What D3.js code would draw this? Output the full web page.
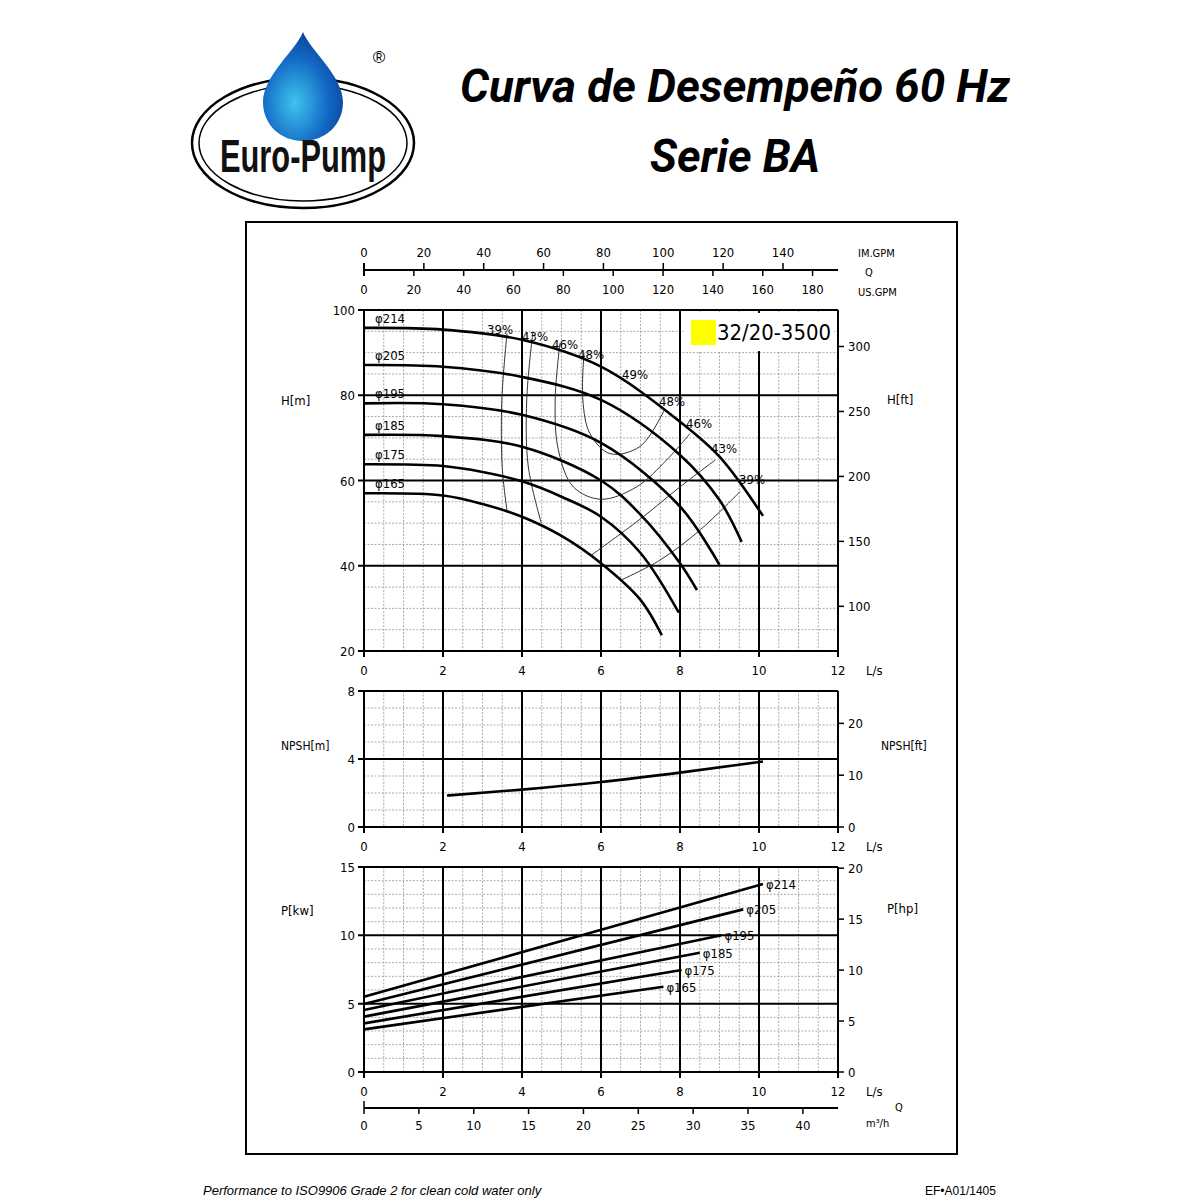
<!DOCTYPE html>
<html><head><meta charset="utf-8">
<script src="https://cdn.jsdelivr.net/npm/d3@7"></script>
<style>body{margin:0;background:#fff}svg{display:block}</style>
</head><body>
<svg id="c" width="1200" height="1200"></svg>
<script>
// ---------- DATA ----------
const diameters = ["φ214","φ205","φ195","φ185","φ175","φ165"];
const headCurves = [
  [[0,95.8],[2,95.4],[4,93],[6,86.7],[8,73.8],[9,65.6],[10.1,51.7]],
  [[0,87.1],[2,86.7],[4,84.3],[6,78.9],[8,66],[9,55.4],[9.56,45.6]],
  [[0,78.1],[2,77.9],[4,75.4],[6,68.8],[8,53.9],[9,40.2]],
  [[0,70.7],[2,70.4],[4,67.9],[6,60],[7,52],[8,40.6],[8.43,34.3]],
  [[0,63.8],[2,63.4],[3,62],[4,59.8],[5,56.2],[6,51.5],[7,43],[7.97,29]],
  [[0,57],[2,56.5],[3,54.5],[4,51.5],[5,47],[6,40.6],[7,32],[7.54,23.7]]
];
const effCurves = [
  {label:"39%", pts:[[3.62,94.5],[3.49,79],[3.5,63],[3.62,53]]},
  {label:"43%", pts:[[4.27,94.5],[4.12,78.9],[4.16,63.2],[4.49,50]]},
  {label:"46%", pts:[[4.96,92.2],[4.84,78.9],[4.92,67.2],[5.3,58.5],[6,55.6],[6.9,58.5],[7.66,64.8],[8.25,71]]},
  {label:"48%", pts:[[5.57,89.9],[5.54,78.9],[5.72,71],[6.23,66.3],[6.99,68],[7.6,76.5]]},
  {label:"43%", pts:[[8.89,64.8],[8,58.5],[7.07,51.5],[5.76,42.5]]},
  {label:"39%", pts:[[9.52,57.4],[8.51,48.4],[7.49,41.3],[6.52,36.7]]}
];
const effLabels = [["39%",500,334],["43%",535,341],["46%",565,349],["48%",591,359],["49%",635,379],["48%",672,406],["46%",699,428],["43%",724,453],["39%",752,484]];
const npsh = [[2.1,1.85],[4,2.2],[6,2.65],[8,3.2],[10.1,3.85]];
const power = [
  [[0,5.5],[10.1,13.75]],
  [[0,4.97],[9.6,11.9]],
  [[0,4.54],[9.05,10.0]],
  [[0,4.05],[8.5,8.73]],
  [[0,3.56],[8.04,7.46]],
  [[0,3.12],[7.58,6.24]]
];
const flowTicks = [0,2,4,6,8,10,12];
const headTicks = [20,40,60,80,100];
const headFtTicks = [100,150,200,250,300];
const npshTicks = [0,4,8];
const npshFtTicks = [0,10,20];
const powerTicks = [0,5,10,15];
const hpTicks = [0,5,10,15,20];
const usGpmTicks = [0,20,40,60,80,100,120,140,160,180];
const imGpmTicks = [0,20,40,60,80,100,120,140];
const m3hTicks = [0,5,10,15,20,25,30,35,40];

// ---------- DRAW ----------
const svg = d3.select("#c");
const F = "'Liberation Sans Narrow','DejaVu Sans Condensed','Liberation Sans',sans-serif";
const x = d3.scaleLinear().domain([0,12]).range([364,838]);
const yH = d3.scaleLinear().domain([20,100]).range([651,310]);
const yN = d3.scaleLinear().domain([0,8]).range([827,691]);
const yP = d3.scaleLinear().domain([0,15]).range([1072,867]);

// logo
const defs = svg.append("defs");
const g1 = defs.append("radialGradient").attr("id","drop").attr("cx","0.4").attr("cy","0.65").attr("r","0.7");
g1.append("stop").attr("offset","0").attr("stop-color","#3fc3ee");
g1.append("stop").attr("offset","0.6").attr("stop-color","#1268c4");
g1.append("stop").attr("offset","1").attr("stop-color","#0a3d96");
svg.append("ellipse").attr("cx",303).attr("cy",143).attr("rx",111).attr("ry",65).attr("fill","none").attr("stroke","#000").attr("stroke-width",2.5);
svg.append("ellipse").attr("cx",303).attr("cy",143).attr("rx",104).attr("ry",58).attr("fill","#fff").attr("stroke","#000").attr("stroke-width",1.5);
svg.append("path").attr("d","M303,32 C296,50 263,76 263,102 C263,125 281,141 303,141 C325,141 343,125 343,102 C343,76 310,50 303,32 Z").attr("fill","url(#drop)");
svg.append("text").attr("x",303).attr("y",172).attr("text-anchor","middle").attr("font-family","'Liberation Sans Narrow',sans-serif").attr("font-weight","bold").attr("font-size",46).attr("textLength",166).attr("lengthAdjust","spacingAndGlyphs").attr("fill","#111").text("Euro-Pump");
svg.append("text").attr("x",379).attr("y",63).attr("text-anchor","middle").attr("font-family","sans-serif").attr("font-size",17).text("®");

// title
svg.append("text").attr("x",735).attr("y",102).attr("text-anchor","middle").attr("font-family","Roboto,sans-serif").attr("font-style","italic").attr("font-weight","bold").attr("font-size",46).attr("textLength",550).attr("lengthAdjust","spacingAndGlyphs").text("Curva de Desempeño 60 Hz");
svg.append("text").attr("x",735).attr("y",172).attr("text-anchor","middle").attr("font-family","Roboto,sans-serif").attr("font-style","italic").attr("font-weight","bold").attr("font-size",46).attr("textLength",170).attr("lengthAdjust","spacingAndGlyphs").text("Serie BA");

// frame
svg.append("rect").attr("x",246).attr("y",222).attr("width",711).attr("height",932).attr("fill","none").attr("stroke","#000").attr("stroke-width",2);

function txt(t,px,py,anchor,size){
  return svg.append("text").attr("x",px).attr("y",py).attr("text-anchor",anchor||"start").attr("font-family",F).attr("font-size",size||13).attr("fill","#000").text(t);
}

function panel(y, yMin, yMax, minorStep, majorStep, leftTicks){
  const g = svg.append("g");
  const [y0,y1]=y.range();
  for(let q=0.5;q<12;q+=0.5){ if(q%2!==0) g.append("line").attr("x1",x(q)).attr("x2",x(q)).attr("y1",y1).attr("y2",y0).attr("stroke","#888").attr("stroke-width",0.7).attr("stroke-dasharray","2,1.5"); }
  for(let v=yMin+minorStep;v<yMax;v+=minorStep){ if(Math.abs(v%majorStep)>1e-6) g.append("line").attr("x1",x(0)).attr("x2",x(12)).attr("y1",y(v)).attr("y2",y(v)).attr("stroke","#888").attr("stroke-width",0.7).attr("stroke-dasharray","2,1.5"); }
  flowTicks.forEach(q=>g.append("line").attr("x1",x(q)).attr("x2",x(q)).attr("y1",y1).attr("y2",y0+6).attr("stroke","#000").attr("stroke-width",2));
  leftTicks.forEach(v=>g.append("line").attr("x1",x(0)-6).attr("x2",x(12)).attr("y1",y(v)).attr("y2",y(v)).attr("stroke","#000").attr("stroke-width",2));
  leftTicks.forEach(v=>txt(v,x(0)-9,y(v)+5,"end",13));
  flowTicks.forEach(q=>txt(q,x(q),y0+24,"middle",13));
  txt("L/s",866,y0+24,"start",13);
  return g;
}

// HEAD panel
panel(yH,20,100,5,20,headTicks);
headFtTicks.forEach(f=>{const m=f*0.3048;svg.append("line").attr("x1",x(12)).attr("x2",x(12)+6).attr("y1",yH(m)).attr("y2",yH(m)).attr("stroke","#000").attr("stroke-width",1.5);txt(f,x(12)+10,yH(m)+5,"start",13);});
txt("H[m]",281,405,"start",13); txt("H[ft]",887,404,"start",13);
const lineC = d3.line().x(d=>x(d[0])).y(d=>yH(d[1])).curve(d3.curveCatmullRom.alpha(0.5));
const lineE = d3.line().x(d=>x(d[0])).y(d=>yH(d[1])).curve(d3.curveCatmullRom);
effCurves.forEach(c=>svg.append("path").attr("d",lineE(c.pts)).attr("fill","none").attr("stroke","#333").attr("stroke-width",1));
headCurves.forEach((c,i)=>{
  svg.append("path").attr("d",lineC(c)).attr("fill","none").attr("stroke","#000").attr("stroke-width",2.6);
  txt(diameters[i],375,yH(c[0][1])-5,"start",13);
});
effLabels.forEach(l=>txt(l[0],l[1],l[2],"middle",13));
// model label
svg.append("rect").attr("x",684).attr("y",313).attr("width",150).attr("height",38).attr("fill","#fff");
svg.append("rect").attr("x",691).attr("y",320).attr("width",25).attr("height",25).attr("fill","#ffff00");
svg.append("text").attr("x",717).attr("y",340).attr("font-family","'DejaVu Sans',sans-serif").attr("font-size",21).attr("textLength",114).attr("lengthAdjust","spacingAndGlyphs").text("32/20-3500");

// top GPM axis
svg.append("line").attr("x1",x(0)).attr("x2",x(12)).attr("y1",270).attr("y2",270).attr("stroke","#000").attr("stroke-width",2);
usGpmTicks.forEach(g=>{const q=g*0.0630902;svg.append("line").attr("x1",x(q)).attr("x2",x(q)).attr("y1",g===0?263:270).attr("y2",276).attr("stroke","#000").attr("stroke-width",g===0?2:1.5);txt(g,x(q),294,"middle",13);});
imGpmTicks.forEach(g=>{const q=g*0.0757682;svg.append("line").attr("x1",x(q)).attr("x2",x(q)).attr("y1",263).attr("y2",270).attr("stroke","#000").attr("stroke-width",1.5);txt(g,x(q),257,"middle",13);});
txt("IM.GPM",858,257,"start",11); txt("Q",865,276,"start",11); txt("US.GPM",858,296,"start",11);

// NPSH panel
panel(yN,0,8,1,4,npshTicks);
npshFtTicks.forEach(f=>{const m=f*0.3048;svg.append("line").attr("x1",x(12)).attr("x2",x(12)+6).attr("y1",yN(m)).attr("y2",yN(m)).attr("stroke","#000").attr("stroke-width",1.5);txt(f,x(12)+10,yN(m)+5,"start",13);});
txt("NPSH[m]",281,750,"start",12); txt("NPSH[ft]",881,750,"start",12);
svg.append("path").attr("d",d3.line().x(d=>x(d[0])).y(d=>yN(d[1])).curve(d3.curveMonotoneX)(npsh)).attr("fill","none").attr("stroke","#000").attr("stroke-width",2.6);

// POWER panel
panel(yP,0,15,1,5,powerTicks);
hpTicks.forEach(h=>{const k=h*0.7457;svg.append("line").attr("x1",x(12)).attr("x2",x(12)+6).attr("y1",yP(k)).attr("y2",yP(k)).attr("stroke","#000").attr("stroke-width",1.5);txt(h,x(12)+10,yP(k)+5,"start",13);});
txt("P[kw]",281,915,"start",13); txt("P[hp]",887,913,"start",13);
power.forEach((c,i)=>{
  svg.append("path").attr("d",d3.line().x(d=>x(d[0])).y(d=>yP(d[1]))(c)).attr("fill","none").attr("stroke","#000").attr("stroke-width",2.6);
  const e=c[c.length-1];
  txt(diameters[i],x(e[0])+3,yP(e[1])+5,"start",13);
});

// bottom m3/h axis
svg.append("line").attr("x1",x(0)).attr("x2",x(12)).attr("y1",1108).attr("y2",1108).attr("stroke","#000").attr("stroke-width",2);
m3hTicks.forEach(m=>{const q=m/3.6;svg.append("line").attr("x1",x(q)).attr("x2",x(q)).attr("y1",m===0?1101:1108).attr("y2",1114).attr("stroke","#000").attr("stroke-width",1.5);txt(m,x(q),1130,"middle",13);});
txt("Q",895,1111,"start",11); txt("m³/h",866,1127,"start",11);

// footer
svg.append("text").attr("x",203).attr("y",1195).attr("font-family","'Liberation Sans',sans-serif").attr("font-style","italic").attr("font-size",13).text("Performance to ISO9906 Grade 2 for clean cold water only");
svg.append("text").attr("x",925).attr("y",1195).attr("font-family","'Liberation Sans Narrow',sans-serif").attr("font-size",12).text("EF•A01/1405");
</script>
</body></html>
